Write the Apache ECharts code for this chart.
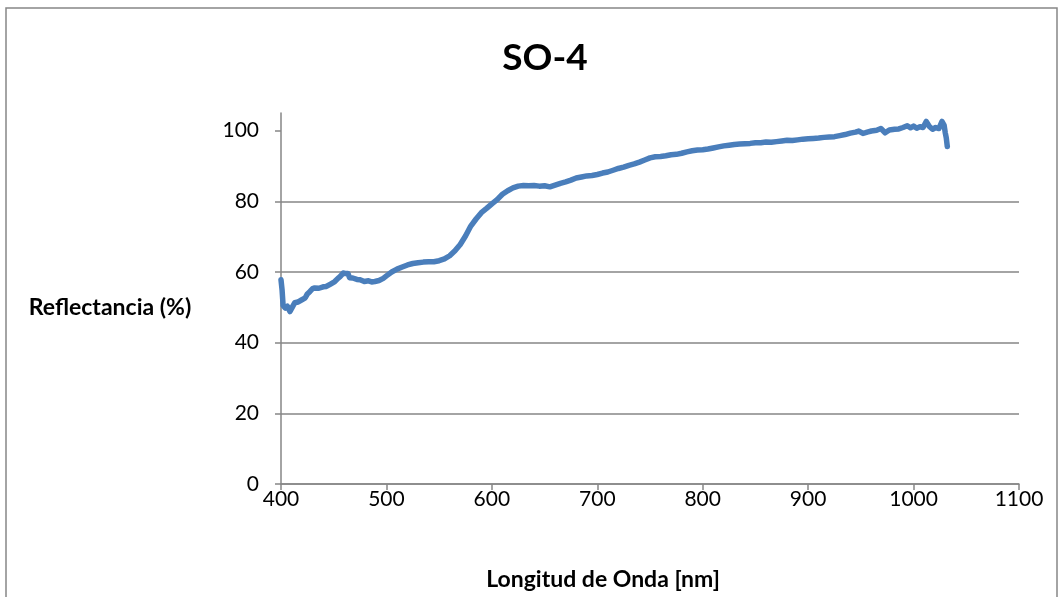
<!DOCTYPE html>
<html>
<head>
<meta charset="utf-8">
<script src="https://cdn.jsdelivr.net/npm/echarts@6/dist/echarts.min.js"></script>
<style>
  html, body { margin: 0; padding: 0; background: #ffffff; }
  #chart { width: 1063px; height: 597px; }
</style>
</head>
<body>
<div id="chart"></div>
<script>
// Spectral reflectance of sample SO-4
const chartTitle = 'SO-4';
const xAxisTitle = 'Longitud de Onda [nm]';
const yAxisTitle = 'Reflectancia (%)';

// Wavelength (nm)
const wavelength = [
  400, 401, 402, 404, 406, 408.5, 411, 413, 416, 419, 423, 425, 427.5, 430, 432, 436, 440, 443, 447, 451,
  454, 456, 457.5, 459, 461, 463.5, 465, 468, 472, 475, 479, 483, 486, 489, 493, 497, 500, 505, 510, 515,
  520, 525, 530, 535, 540, 545, 550, 555, 560, 565, 570, 575, 580, 585, 590, 595, 600, 605, 610, 615,
  620, 625, 630, 635, 640, 645, 650, 655, 660, 665, 670, 675, 680, 685, 690, 695, 700, 705, 710, 715,
  720, 725, 730, 735, 740, 745, 750, 755, 760, 765, 770, 775, 780, 785, 790, 795, 800, 805, 810, 815,
  820, 825, 830, 835, 840, 845, 850, 855, 860, 865, 870, 875, 880, 885, 890, 895, 900, 905, 910, 915,
  920, 925, 930, 935, 940, 945, 948, 952, 956, 960, 965, 969, 973, 977, 982, 986, 990, 994, 997, 1000,
  1003, 1006, 1009, 1012, 1015, 1018, 1021, 1024, 1027, 1029, 1030, 1031, 1032
];

// Reflectance (%)
const reflectance = [
  57.8, 55.0, 50.5, 49.8, 50.3, 48.8, 50.2, 51.3, 51.5, 52.0, 52.7, 53.8, 54.5, 55.3, 55.5, 55.4, 55.8, 55.9, 56.6, 57.3,
  58.2, 58.7, 58.3, 59.7, 59.6, 59.6, 58.4, 58.3, 57.9, 57.8, 57.3, 57.5, 57.2, 57.3, 57.6, 58.2, 58.9, 60.0, 60.8, 61.4,
  62.0, 62.4, 62.6, 62.8, 62.9, 62.9, 63.2, 63.7, 64.6, 66.0, 67.8, 70.2, 73.0, 75.0, 76.8, 78.0, 79.3, 80.5, 82.0, 83.0,
  83.8, 84.3, 84.5, 84.4, 84.5, 84.3, 84.4, 84.1, 84.6, 85.1, 85.5, 86.0, 86.6, 86.9, 87.2, 87.3, 87.6, 88.0, 88.3, 88.8,
  89.3, 89.7, 90.2, 90.6, 91.1, 91.7, 92.3, 92.6, 92.7, 92.9, 93.2, 93.3, 93.6, 94.0, 94.3, 94.5, 94.6, 94.8, 95.1, 95.4,
  95.7, 95.9, 96.1, 96.2, 96.3, 96.4, 96.6, 96.6, 96.8, 96.7, 96.9, 97.1, 97.3, 97.2, 97.4, 97.6, 97.7, 97.8, 97.9, 98.1,
  98.2, 98.3, 98.6, 98.9, 99.3, 99.6, 99.9, 99.2, 99.6, 99.9, 100.1, 100.6, 99.4, 100.2, 100.4, 100.5, 100.9, 101.4, 100.8, 101.3,
  100.7, 101.1, 100.9, 102.6, 101.2, 100.4, 100.9, 100.6, 102.6, 101.5, 99.5, 98.0, 95.5
];

// Axis ticks
const xTicks = [400, 500, 600, 700, 800, 900, 1000, 1100];
const yTicks = [0, 20, 40, 60, 80, 100];

const seriesData = wavelength.map((w, i) => [w, reflectance[i]]);

const FONT = 'Lato, "Open Sans", sans-serif';
const AXIS_GRAY = '#868686';

const chart = echarts.init(document.getElementById('chart'), null, { renderer: 'canvas' });

chart.setOption({
  animation: false,
  backgroundColor: '#ffffff',
  title: {
    text: chartTitle,
    left: 540,
    top: 35,
    textAlign: 'center',
    textStyle: { fontFamily: FONT, fontSize: 37, fontWeight: 'bold', color: '#000000' }
  },
  graphic: [
    {
      type: 'rect',
      shape: { x: 6, y: 8, width: 1051, height: 620 },
      style: { fill: 'none', stroke: AXIS_GRAY, lineWidth: 1.5 },
      silent: true
    },
    {
      type: 'text',
      x: 110, y: 308,
      style: {
        text: yAxisTitle, align: 'center', verticalAlign: 'middle',
        font: 'bold 23px ' + FONT, fill: '#000000'
      }
    },
    {
      type: 'text',
      x: 603, y: 580,
      style: {
        text: xAxisTitle, align: 'center', verticalAlign: 'middle',
        font: 'bold 23px ' + FONT, fill: '#000000'
      }
    }
  ],
  grid: { left: 281, right: 44, top: 113, bottom: 113, containLabel: false },
  xAxis: {
    type: 'value',
    min: xTicks[0],
    max: xTicks[xTicks.length - 1],
    interval: 100,
    axisLine: { show: true, onZero: false, lineStyle: { color: AXIS_GRAY, width: 1.5 } },
    axisTick: { show: true, inside: false, length: 6, lineStyle: { color: AXIS_GRAY, width: 1.5 } },
    axisLabel: {
      margin: 5, fontFamily: FONT, fontSize: 21, color: '#000000',
      formatter: (v) => String(v)
    },
    splitLine: { show: false }
  },
  yAxis: {
    type: 'value',
    min: 0,
    max: 105,
    interval: 20,
    axisLine: { show: true, lineStyle: { color: AXIS_GRAY, width: 1.5 } },
    axisTick: { show: true, length: 6, customValues: yTicks, lineStyle: { color: AXIS_GRAY, width: 1.5 } },
    axisLabel: {
      margin: 22, fontFamily: FONT, fontSize: 21, color: '#000000', customValues: yTicks,
      formatter: (v) => String(v)
    },
    splitLine: { show: true, showMaxLine: false, lineStyle: { color: AXIS_GRAY, width: 1.5 } }
  },
  series: [{
    type: 'line',
    data: seriesData,
    showSymbol: false,
    smooth: false,
    clip: false,
    lineStyle: { color: '#4a7ebb', width: 5.5, join: 'round', cap: 'round' }
  }]
});
</script>
</body>
</html>
